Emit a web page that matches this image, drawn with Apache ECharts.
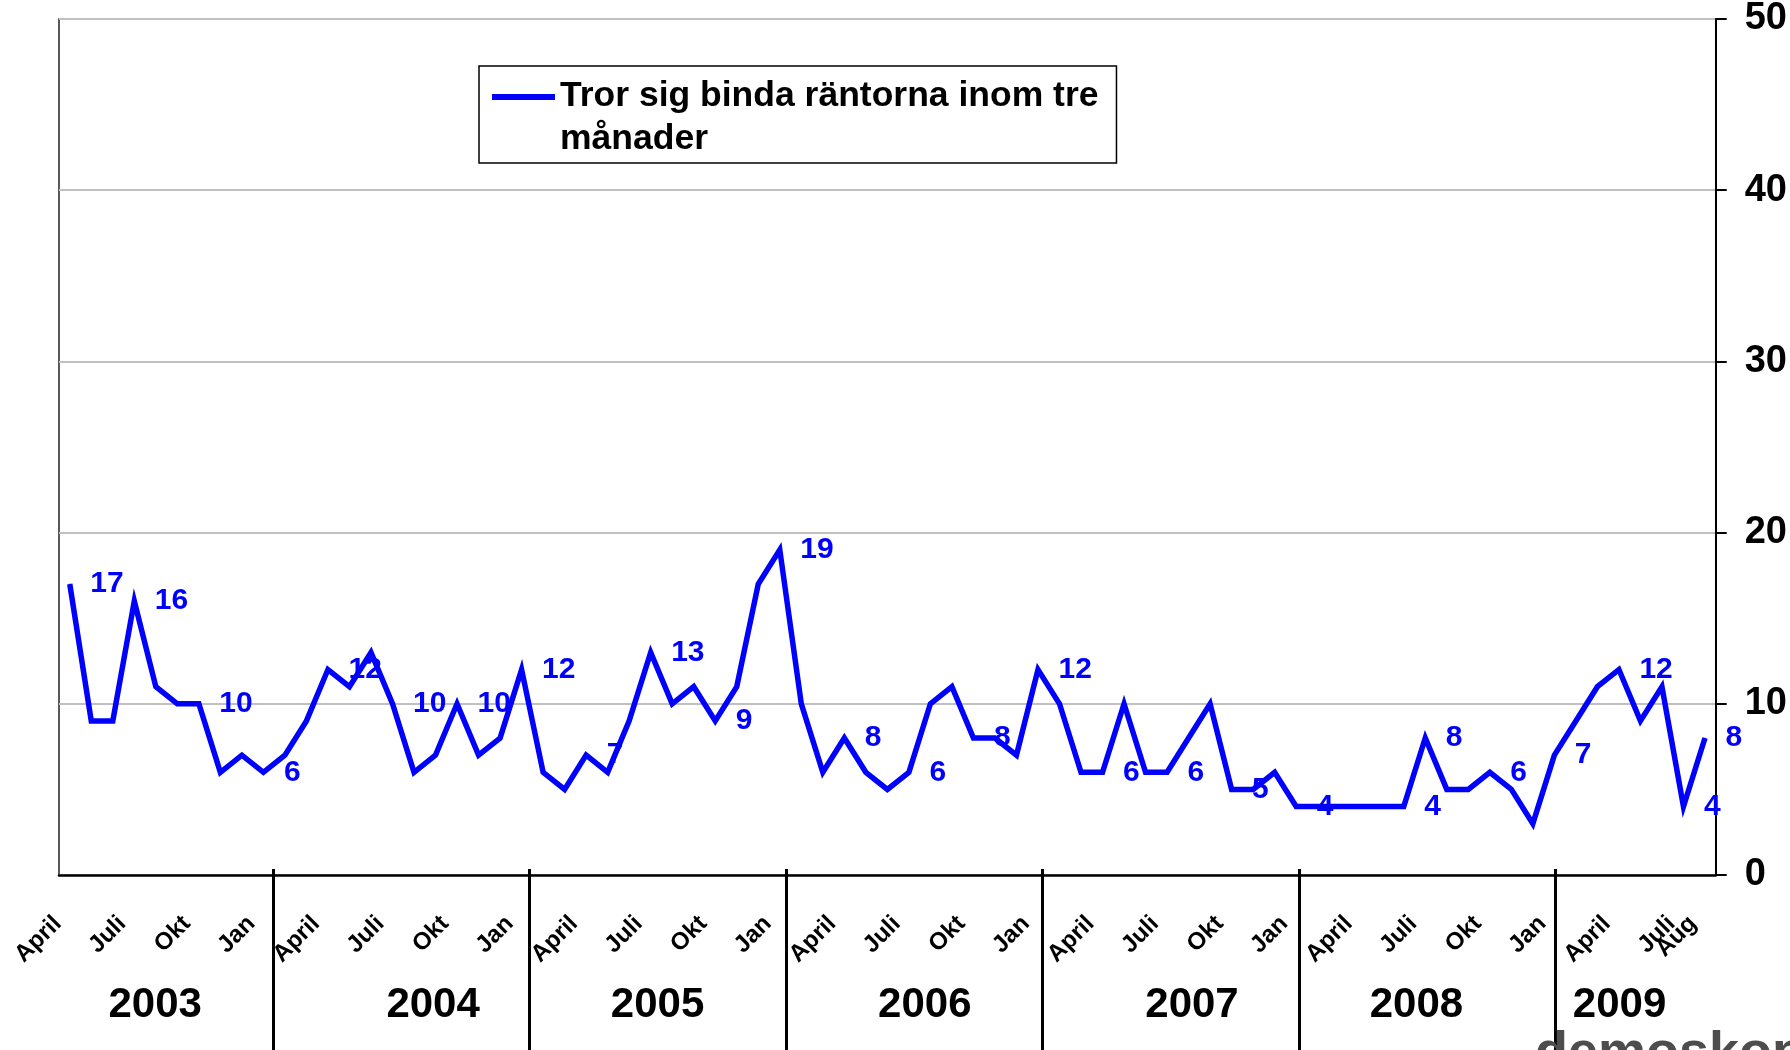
<!DOCTYPE html>
<html>
<head>
<meta charset="utf-8">
<script src="https://cdn.jsdelivr.net/npm/echarts@6/dist/echarts.min.js"></script>
<style>
  html, body { margin: 0; padding: 0; background: #fff; }
  #chart { width: 1790px; height: 1050px; }
</style>
</head>
<body>
<div id="chart"></div>
<script>
const font = 'Liberation Sans, Arial, sans-serif';

// månader, april 2003 - aug 2009
const monthNames = ['Jan', 'Feb', 'Mars', 'April', 'Maj', 'Juni', 'Juli', 'Aug', 'Sep', 'Okt', 'Nov', 'Dec'];
const startYear = 2003;
const startMonth = 3;

const seriesName = 'Tror sig binda räntorna inom tre\nmånader';
const values = [
  17, 9, 9, 16, 11, 10, 10, 6, 7, 6,
  7, 9, 12, 11, 13, 10, 6, 7, 10, 7, 8, 12,
  6, 5, 7, 6, 9, 13, 10, 11, 9, 11, 17, 19,
  10, 6, 8, 6, 5, 6, 10, 11, 8, 8, 7, 12,
  10, 6, 6, 10, 6, 6, 8, 10, 5, 5, 6, 4,
  4, 4, 4, 4, 4, 8, 5, 5, 6, 5, 3, 7,
  9, 11, 12, 9, 11, 4, 8
];
// punkter som har värdeetikett
const labelIdx = [0, 3, 6, 9, 12, 15, 18, 21, 24, 27, 30, 33, 36, 39, 42, 45, 48, 51, 54, 57, 62, 63, 66, 69, 72, 75, 76];

// årsgrupper under axeln (hjälpaxel med 155 lika steg)
const years = ['2003', '2004', '2005', '2006', '2007', '2008', '2009'];
const yearLabelAt = [9, 35, 56, 81, 106, 127, 146];
const yearBreakAt = [20, 44, 68, 92, 116, 140];
const yearSteps = 155;

const yTicks = { min: 0, max: 50, interval: 10 };

const categories = values.map((v, i) => {
  const m = startMonth + i;
  return monthNames[m % 12] + ' ' + (startYear + Math.floor(m / 12));
});
const last = categories.length - 1;

const yearAxisData = [];
for (let k = 0; k <= yearSteps; k++) {
  const j = yearLabelAt.indexOf(k);
  yearAxisData.push(j >= 0 ? years[j] : '');
}

const monthLabel = {
  rotate: 45,
  margin: 33,
  padding: [0, 17, 0, 0],
  fontSize: 24,
  fontWeight: 'bold',
  color: '#000',
  fontFamily: font,
  formatter: (v) => v.split(' ')[0]
};

const chart = echarts.init(document.getElementById('chart'));
chart.setOption({
  animation: false,
  backgroundColor: '#fff',
  title: {
    text: 'demoskop',
    left: 1535,
    top: 1027,
    padding: 0,
    textStyle: { fontSize: 54, fontWeight: 'bold', color: '#4d4d4d', fontFamily: font }
  },
  legend: {
    left: 479,
    top: 66,
    padding: [9, 18, 2, 13],
    borderColor: '#000',
    borderWidth: 1.5,
    itemWidth: 63,
    itemHeight: 84,
    selectedMode: false,
    icon: 'path://M0,0L0.01,0M0,18L63,18L63,24L0,24ZM0,84L0.01,84',
    itemStyle: { borderWidth: 0 },
    textStyle: { fontSize: 35.5, fontWeight: 'bold', color: '#000', lineHeight: 43, fontFamily: font },
    data: [seriesName]
  },
  grid: {
    left: 59, right: 66, top: 19, bottom: 175,
    show: true, borderColor: '#222', borderWidth: 1.5
  },
  xAxis: [
    {
      type: 'category',
      data: categories,
      boundaryGap: true,
      axisLine: { lineStyle: { color: '#000', width: 2.5 } },
      axisTick: { interval: 0, length: 9, lineStyle: { color: '#000', width: 2 } },
      axisLabel: Object.assign({ interval: (i) => i % 3 === 0 && i !== last }, monthLabel),
      splitLine: { show: false }
    },
    {
      // sista månaden (Aug) ritas för sig så att den får ligga över Juli
      type: 'category',
      data: categories,
      boundaryGap: true,
      position: 'bottom',
      axisLine: { show: false },
      axisTick: { show: false },
      axisLabel: Object.assign({ interval: (i) => i === last }, monthLabel),
      splitLine: { show: false }
    },
    {
      type: 'category',
      data: yearAxisData,
      boundaryGap: false,
      position: 'bottom',
      offset: -6,
      axisLine: { show: false },
      axisTick: {
        alignWithLabel: true,
        interval: (i) => yearBreakAt.includes(i),
        length: 190,
        lineStyle: { color: '#000', width: 3 }
      },
      axisLabel: {
        interval: (i) => yearLabelAt.includes(i),
        hideOverlap: false,
        margin: 136,
        verticalAlign: 'middle',
        fontSize: 42,
        fontWeight: 'bold',
        color: '#000',
        fontFamily: font
      },
      splitLine: { show: false }
    }
  ],
  yAxis: {
    type: 'value',
    position: 'right',
    min: yTicks.min,
    max: yTicks.max,
    interval: yTicks.interval,
    axisLine: { show: true, lineStyle: { color: '#000', width: 2 } },
    axisTick: { show: true, length: 11, lineStyle: { color: '#000', width: 2 } },
    axisLabel: { margin: 29, fontSize: 38, fontWeight: 'bold', color: '#000', fontFamily: font },
    splitLine: { show: true, lineStyle: { color: '#c0c0c0', width: 2 } }
  },
  series: [{
    name: seriesName,
    type: 'line',
    xAxisIndex: 0,
    data: values.map((v, i) => labelIdx.includes(i) ? { value: v, label: { show: true } } : v),
    symbol: 'circle',
    symbolSize: 1,
    showAllSymbol: true,
    lineStyle: { color: '#0000ff', width: 5.5, join: 'miter' },
    itemStyle: { color: '#0000ff', borderWidth: 0 },
    label: {
      show: false,
      position: 'right',
      distance: 20,
      fontSize: 30,
      fontWeight: 'bold',
      color: '#0000ff',
      fontFamily: font
    },
    emphasis: { disabled: true }
  }]
});
</script>
</body>
</html>
